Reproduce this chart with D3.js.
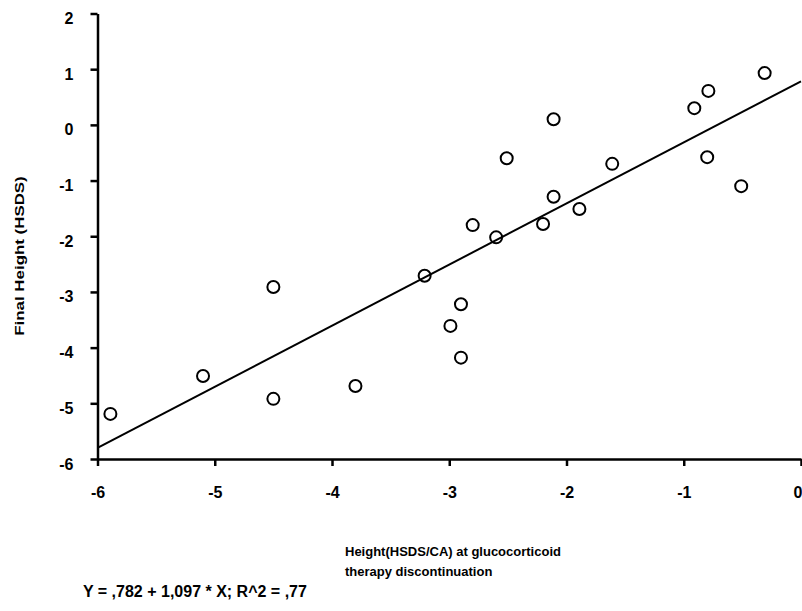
<!DOCTYPE html>
<html>
<head>
<meta charset="utf-8">
<script src="https://cdn.jsdelivr.net/npm/d3@7"></script>
<style>
  body { margin: 0; background: #fff; }
  svg { display: block; }
  text { font-family: "Liberation Sans", Arial, sans-serif; font-weight: bold; fill: #000; }
</style>
</head>
<body>
<div id="chart"></div>
<script>
// Data
const xValues = [-5.89, -5.10, -4.50, -4.50, -3.80, -3.21, -2.99, -2.90, -2.90, -2.80, -2.60,
  -2.51, -2.20, -2.11, -2.11, -1.89, -1.61, -0.91, -0.79, -0.80, -0.51, -0.31];
const yValues = [-5.19, -4.51, -2.91, -4.92, -4.69, -2.71, -3.61, -3.22, -4.18, -1.80, -2.02,
  -0.60, -1.78, 0.10, -1.29, -1.51, -0.70, 0.30, 0.61, -0.58, -1.10, 0.93];
const xTicks = [-6, -5, -4, -3, -2, -1, 0];
const yTicks = [-6, -5, -4, -3, -2, -1, 0, 1, 2];
const fit = [0.782, 1.097]; // intercept, slope

const width = 802;
const height = 611;

const svg = d3.select("#chart")
  .append("svg")
  .attr("width", width)
  .attr("height", height);

const x = d3.scaleLinear().domain([-6, 0]).range([97.5, 801]);
const y = d3.scaleLinear().domain([-6, 2]).range([459, 13.5]);

// plain hyphen for negatives, like the original
const fmt = d => String(d);

// X axis
const xAxis = svg.append("g")
  .attr("transform", `translate(0, ${y(-6)})`)
  .call(d3.axisBottom(x).tickValues(xTicks).tickSize(7).tickSizeOuter(0).tickFormat(fmt));
xAxis.selectAll("text")
  .attr("y", 39)
  .attr("dy", 0)
  .attr("text-anchor", d => d === 0 ? "end" : "middle")
  .attr("x", d => d === 0 ? 1 : 0)
  .style("font-size", "16px");

// Y axis
const yAxis = svg.append("g")
  .attr("transform", `translate(${x(-6)}, 0)`)
  .call(d3.axisLeft(y).tickValues(yTicks).tickSize(7).tickSizeOuter(0).tickFormat(fmt));
yAxis.selectAll("text")
  .attr("x", -24)
  .attr("y", 10)
  .attr("dy", 0)
  .style("font-size", "16px");

svg.selectAll(".domain, .tick line")
  .attr("stroke", "#000")
  .attr("stroke-width", 2.5);

// Regression line
const line = d3.line()
  .x(d => x(d))
  .y(d => y(fit[0] + fit[1] * d));

svg.append("path")
  .datum(x.domain())
  .attr("d", line)
  .attr("fill", "none")
  .attr("stroke", "#000")
  .attr("stroke-width", 2);

// Points
svg.selectAll("circle.pt")
  .data(xValues.map((d, i) => [d, yValues[i]]))
  .enter()
  .append("circle")
  .attr("class", "pt")
  .attr("cx", d => x(d[0]))
  .attr("cy", d => y(d[1]))
  .attr("r", 6)
  .attr("fill", "none")
  .attr("stroke", "#000")
  .attr("stroke-width", 2);

// Axis titles
svg.append("text")
  .attr("transform", "translate(24, 256) rotate(-90) scale(1.3, 1)")
  .attr("text-anchor", "middle")
  .style("font-size", "13px")
  .text("Final Height (HSDS)");

svg.append("text")
  .attr("x", 345)
  .attr("y", 556)
  .style("font-size", "13px")
  .text("Height(HSDS/CA) at glucocorticoid");

svg.append("text")
  .attr("x", 345)
  .attr("y", 576)
  .style("font-size", "13px")
  .text("therapy discontinuation");

svg.append("text")
  .attr("x", 83)
  .attr("y", 597)
  .style("font-size", "16px")
  .text("Y = ,782 + 1,097 * X; R^2 = ,77");
</script>
</body>
</html>
